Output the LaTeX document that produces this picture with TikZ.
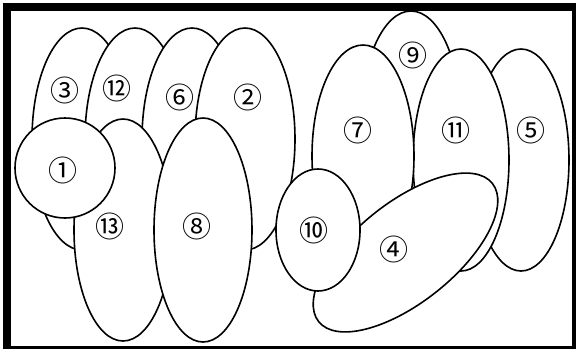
\documentclass[tikz,border=0pt]{standalone}
\usepackage{fontspec}
\newfontfamily\jpfont{Noto Sans CJK JP}
\usetikzlibrary{positioning}

\begin{document}
\begin{tikzpicture}[
      x=1pt,y=-1pt,
      egg/.style ={fill=white,draw=black,line width=1.6pt},
      num/.style ={inner sep=0pt,font=\jpfont\fontsize{29}{29}\selectfont}
      ]
    \useasboundingbox (0,0) rectangle (576,349);
    % frame with the heavier edge on the left and top
    \fill[black] (3,3) rectangle (576,349); \fill[white] (11,11) rectangle (572,346);
    % left bunch
    \filldraw[egg] (82,139) ellipse [x radius=50, y radius=111];
    \filldraw[egg] (135,139) ellipse [x radius=50, y radius=111];
    \filldraw[egg] (192,139) ellipse [x radius=50, y radius=111];
    \filldraw[egg] (245,139) ellipse [x radius=50, y radius=111];
    \filldraw[egg] (123,230) ellipse [x radius=49, y radius=111];
    \filldraw[egg] (65,168) circle [radius=50];
    \filldraw[egg] (203,230) ellipse [x radius=49, y radius=112];
    % right bunch
    \filldraw[egg] (411,122) ellipse [x radius=50, y radius=111];
    \filldraw[egg] (521,160) ellipse [x radius=48, y radius=111];
    \filldraw[egg] (461,160) ellipse [x radius=48, y radius=111];
    \filldraw[egg] (363,156) ellipse [x radius=51, y radius=111];
    \filldraw[egg,rotate around={38.5:(405.5,252.5)}] (405.5,252.5) ellipse [x radius=111, y radius=50];
    \filldraw[egg] (318,230) ellipse [x radius=42, y radius=61];
    % numbers
    \node[num] (n1) at (63,170) {①};
    \node[num] (n2) at (248,97) {②};
    \node[num] (n3) at (64.5,90) {③};
    \node[num] (n4) at (394,249) {④};
    \node[num] (n5) at (531,130) {⑤};
    \node[num] (n6) at (180,97) {⑥};
    \node[num] (n7) at (358,130) {⑦};
    \node[num] (n8) at (197,226) {⑧};
    \node[num] (n9) at (413,55) {⑨};
    \node[num] (n10) at (314,230) {⑩};
    \node[num] (n11) at (456,130) {⑪};
    \node[num] (n12) at (117,88) {⑫};
    \node[num] (n13) at (110,226) {⑬};
\end{tikzpicture}
\end{document}
